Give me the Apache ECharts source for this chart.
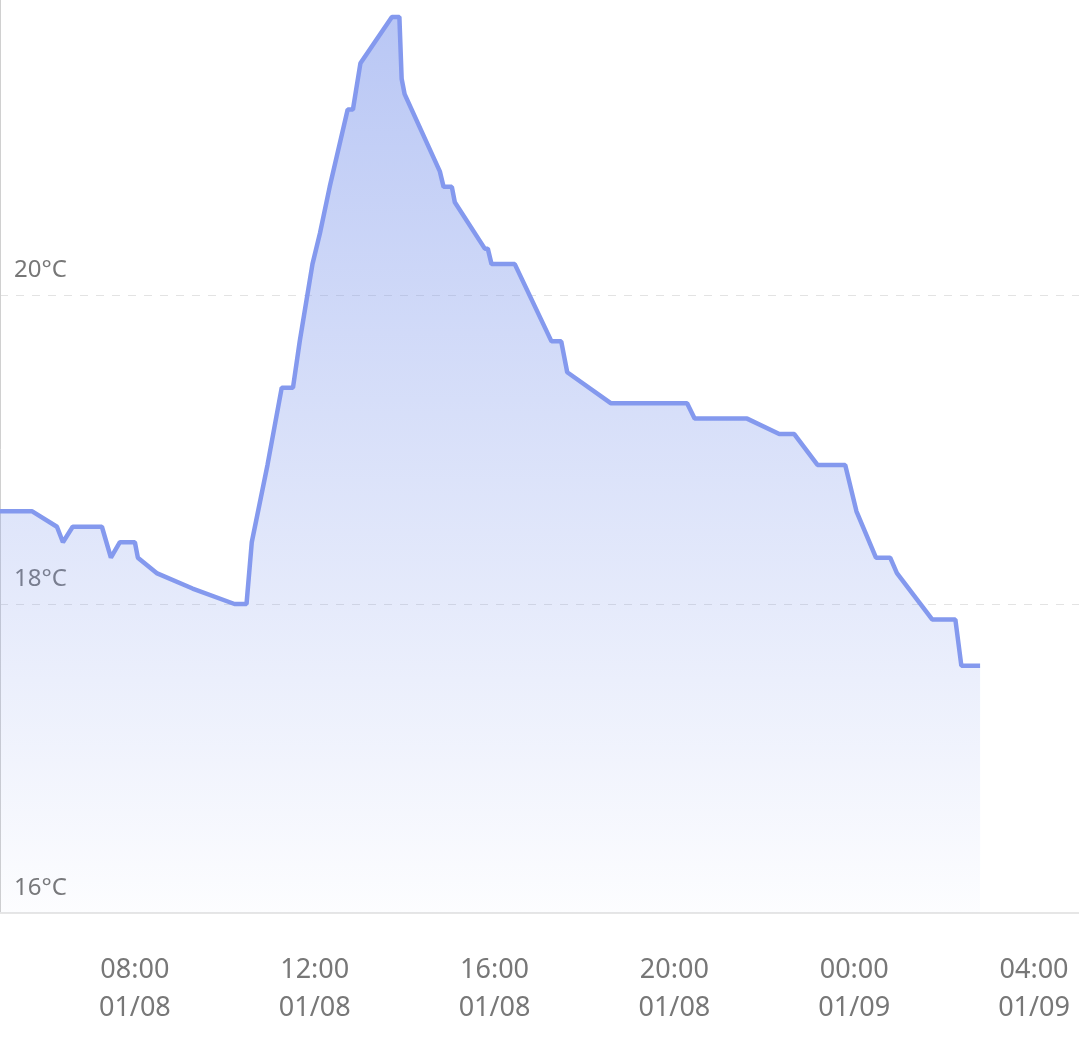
<!DOCTYPE html>
<html>
<head>
<meta charset="utf-8">
<script src="https://cdn.jsdelivr.net/npm/echarts@6/dist/echarts.min.js"></script>
<style>
html,body{margin:0;padding:0;background:#fff;overflow:hidden;}
#chart{width:1079px;height:1063px;margin-top:-14px;}
</style>
</head>
<body>
<div id="chart"></div>
<script>
// Timestamps (local time) and temperatures
var times = [
  '2024-01-08 05:00','2024-01-08 05:43','2024-01-08 06:16','2024-01-08 06:24','2024-01-08 06:37',
  '2024-01-08 07:16','2024-01-08 07:28','2024-01-08 07:40','2024-01-08 08:00','2024-01-08 08:04',
  '2024-01-08 08:29','2024-01-08 09:17','2024-01-08 10:13','2024-01-08 10:29','2024-01-08 10:36',
  '2024-01-08 10:57','2024-01-08 11:16','2024-01-08 11:31','2024-01-08 11:40','2024-01-08 11:57',
  '2024-01-08 12:07','2024-01-08 12:20','2024-01-08 12:44','2024-01-08 12:51','2024-01-08 13:01',
  '2024-01-08 13:43','2024-01-08 13:53','2024-01-08 13:56','2024-01-08 14:00','2024-01-08 14:47',
  '2024-01-08 14:52','2024-01-08 15:03','2024-01-08 15:07','2024-01-08 15:47','2024-01-08 15:51',
  '2024-01-08 15:56','2024-01-08 16:27','2024-01-08 17:16','2024-01-08 17:29','2024-01-08 17:37',
  '2024-01-08 18:35','2024-01-08 20:17','2024-01-08 20:27','2024-01-08 21:37','2024-01-08 22:20',
  '2024-01-08 22:40','2024-01-08 23:11','2024-01-08 23:48','2024-01-09 00:03','2024-01-09 00:29',
  '2024-01-09 00:48','2024-01-09 00:57','2024-01-09 01:44','2024-01-09 02:15','2024-01-09 02:23',
  '2024-01-09 02:48'
];
var temps = [
  18.6,18.6,18.5,18.4,18.5,
  18.5,18.3,18.4,18.4,18.3,
  18.2,18.1,18.0,18.0,18.4,
  18.9,19.4,19.4,19.7,20.2,
  20.4,20.7,21.2,21.2,21.5,
  21.8,21.8,21.4,21.3,20.8,
  20.7,20.7,20.6,20.3,20.3,
  20.2,20.2,19.7,19.7,19.5,
  19.3,19.3,19.2,19.2,19.1,
  19.1,18.9,18.9,18.6,18.3,
  18.3,18.2,17.9,17.9,17.6,
  17.6
];
var axisStart = '2024-01-08 05:00';
var axisEnd = '2024-01-09 05:00';
var yTicks = [16, 18, 20, 22];

function parseLocal(s){
  var p = s.split(/[- :]/).map(Number);
  return new Date(p[0], p[1]-1, p[2], p[3], p[4]).getTime();
}
var seriesData = times.map(function(t, i){ return [parseLocal(t), temps[i]]; });
function pad(n){ return (n < 10 ? '0' : '') + n; }

var chart = echarts.init(document.getElementById('chart'));
chart.setOption({
  animation: false,
  backgroundColor: '#ffffff',
  grid: { left: 0, right: 0, top: 0, bottom: 136, containLabel: false, outerBoundsMode: 'none' },
  xAxis: {
    type: 'time',
    min: parseLocal(axisStart),
    max: parseLocal(axisEnd),
    minInterval: 4 * 3600 * 1000,
    maxInterval: 4 * 3600 * 1000,
    axisLine: { show: true, lineStyle: { color: '#e6e6e6', width: 2 } },
    axisTick: { show: false },
    splitLine: { show: false },
    axisLabel: {
      color: '#777777',
      fontSize: 27,
      lineHeight: 38,
      fontFamily: 'Noto Sans',
      margin: 38,
      hideOverlap: false,
      formatter: function (v) {
        var d = new Date(v);
        return pad(d.getHours()) + ':' + pad(d.getMinutes()) + '\n' + pad(d.getMonth() + 1) + '/' + pad(d.getDate());
      }
    }
  },
  yAxis: {
    type: 'value',
    min: yTicks[0],
    max: yTicks[yTicks.length - 1],
    interval: 2,
    axisLine: { show: true, lineStyle: { color: '#d0d0d0', width: 1 } },
    axisTick: { show: false },
    splitLine: { show: true, lineStyle: { color: '#e3e3e3', type: [8, 8], width: 1 } },
    axisLabel: {
      inside: true,
      margin: 14,
      color: '#777777',
      fontSize: 24,
      fontFamily: 'Noto Sans',
      verticalAlign: 'bottom',
      lineHeight: 24,
      padding: [0, 0, 13, 0],
      showMaxLabel: false,
      formatter: '{value}°C'
    }
  },
  series: [{
    type: 'line',
    data: seriesData,
    showSymbol: false,
    symbol: 'none',
    lineStyle: { color: '#8499ee', width: 4.5 },
    areaStyle: {
      opacity: 1,
      color: new echarts.graphic.LinearGradient(0, 0, 0, 1, [
        { offset: 0, color: 'rgba(128,153,236,0.55)' },
        { offset: 1, color: 'rgba(128,153,236,0.02)' }
      ])
    }
  }]
});
</script>
</body>
</html>
